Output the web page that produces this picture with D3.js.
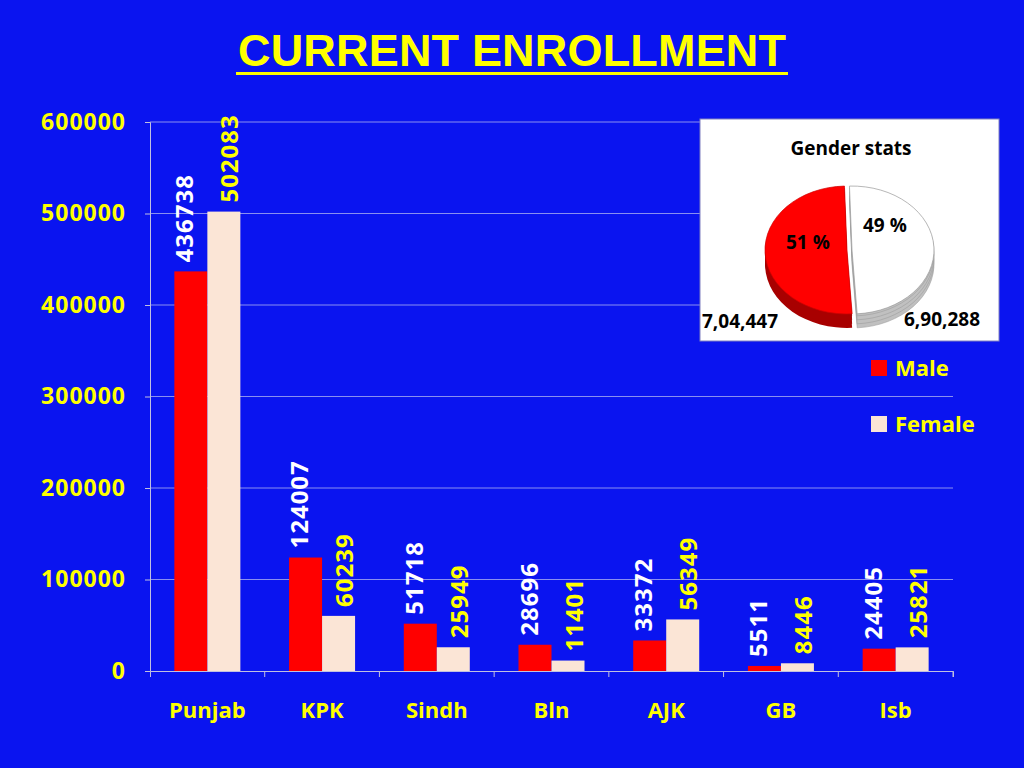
<!DOCTYPE html>
<html><head><meta charset="utf-8">
<script src="https://cdn.jsdelivr.net/npm/d3@7"></script>
<style>body{margin:0;background:#0a14f0;}svg{display:block}</style>
</head><body>
<svg id="chart" width="1024" height="768"></svg>
<script>
const categories = ["Punjab", "KPK", "Sindh", "Bln", "AJK", "GB", "Isb"];
const male = [436738, 124007, 51718, 28696, 33372, 5511, 24405];
const female = [502083, 60239, 25949, 11401, 56349, 8446, 25821];
const yTicks = [0, 100000, 200000, 300000, 400000, 500000, 600000];
const genderTotals = [{ name: "Male", value: 704447, label: "7,04,447", pct: "51 %" },
                      { name: "Female", value: 690288, label: "6,90,288", pct: "49 %" }];

const font = "'Open Sans', Lato, sans-serif";
const svg = d3.select("#chart");
svg.append("rect").attr("width", 1024).attr("height", 768).attr("fill", "#0a14f0");

svg.append("text").attr("x", 512).attr("y", 66).attr("text-anchor", "middle")
  .attr("fill", "#ffff00").attr("font-family", "'Liberation Sans', Arial, sans-serif")
  .attr("font-weight", "bold").attr("font-size", 45).attr("textLength", 548).text("CURRENT ENROLLMENT");
svg.append("rect").attr("x", 236).attr("y", 72).attr("width", 552).attr("height", 3).attr("fill", "#ffff00");

const x = d3.scaleBand().domain(categories).range([150, 953]);
const y = d3.scaleLinear().domain([0, 600000]).range([671, 122]);

const grid = svg.append("g");
grid.selectAll("line").data(yTicks.slice(1)).join("line")
  .attr("x1", 150).attr("x2", 953).attr("y1", d => y(d)).attr("y2", d => y(d))
  .attr("stroke", "#8a8ff0").attr("stroke-width", 1);

const yAxis = svg.append("g").attr("transform", "translate(150,0)")
  .call(d3.axisLeft(y).tickValues(yTicks).tickFormat(d3.format("d")).tickSize(5));
yAxis.selectAll("path,line").attr("stroke", "#c0c0e0");
yAxis.selectAll("text").attr("fill", "#ffff00").attr("font-family", font)
  .attr("font-weight", "bold").attr("font-size", 23).attr("letter-spacing", 1).attr("x", -24);

const xAxis = svg.append("g").attr("transform", "translate(0,671)")
  .call(d3.axisBottom(x).tickSize(6).tickSizeOuter(6));
xAxis.selectAll("path,line").attr("stroke", "#c0c0e0");
xAxis.selectAll(".tick line").attr("transform", `translate(${x.bandwidth() / 2},0)`);
xAxis.selectAll("text").attr("fill", "#ffff00").attr("font-family", font)
  .attr("font-weight", "bold").attr("font-size", 22).attr("dy", 38);

const bw = 33;
const rows = categories.map((c, i) => ({ c, m: male[i], f: female[i] }));
const g = svg.append("g");
g.selectAll(".m").data(rows).join("rect")
  .attr("x", d => x(d.c) + x.bandwidth() / 2 - bw).attr("width", bw)
  .attr("y", d => y(d.m)).attr("height", d => y(0) - y(d.m)).attr("fill", "#ff0000");
g.selectAll(".f").data(rows).join("rect")
  .attr("x", d => x(d.c) + x.bandwidth() / 2).attr("width", bw)
  .attr("y", d => y(d.f)).attr("height", d => y(0) - y(d.f)).attr("fill", "#fbe5d6");

function vlabel(key, dx, color) {
  g.selectAll(null).data(rows).join("text")
    .attr("transform", d => `translate(${x(d.c) + x.bandwidth() / 2 + dx},${y(d[key]) - 9}) rotate(-90)`)
    .attr("fill", color).attr("font-family", font).attr("font-weight", "bold")
    .attr("font-size", 24).attr("letter-spacing", 1).attr("text-anchor", "start").text(d => d[key]);
}
vlabel("m", -14, "#ffffff");
vlabel("f", 31, "#ffff00");

// legend
const leg = svg.append("g");
[["Male", "#ff0000", 368], ["Female", "#fbe5d6", 424]].forEach(([t, c, yy]) => {
  leg.append("rect").attr("x", 871).attr("y", yy - 8).attr("width", 16).attr("height", 16).attr("fill", c);
  leg.append("text").attr("x", 895).attr("y", yy + 8).attr("fill", "#ffff00").attr("font-family", font)
    .attr("font-weight", "bold").attr("font-size", 22).text(t);
});

// pie inset
svg.append("rect").attr("x", 700).attr("y", 119).attr("width", 299).attr("height", 222)
  .attr("fill", "#ffffff").attr("stroke", "#8080c0");
svg.append("text").attr("x", 851).attr("y", 155).attr("text-anchor", "middle")
  .attr("font-family", font).attr("font-weight", "bold").attr("font-size", 19).text("Gender stats");

const pie = d3.pie().sort(null).value(d => d.value).startAngle(2 * Math.PI * 0.49 - 2 * Math.PI).endAngle(2 * Math.PI * 0.49);
const arcs = pie([genderTotals[0], genderTotals[1]]);
const arc = d3.arc().innerRadius(0).outerRadius(82);
const colors = { Male: ["#ff0000", "#a80000"], Female: ["#ffffff", "#c0c0c0"] };
const offs = { Male: [0, 0], Female: [5, 0] };
[14, 10, 6, 2].forEach(dz => {
  arcs.forEach(a => {
    svg.append("path").attr("d", arc(a))
      .attr("transform", `translate(${847 + offs[a.data.name][0]},${250 + dz}) scale(1,0.78)`)
      .attr("fill", colors[a.data.name][1]).attr("stroke", a.data.name === "Female" ? "#999" : "none").attr("stroke-width", 0.6);
  });
});
arcs.forEach(a => {
  svg.append("path").attr("d", arc(a))
    .attr("transform", `translate(${847 + offs[a.data.name][0]},250) scale(1,0.78)`)
    .attr("fill", colors[a.data.name][0]).attr("stroke", a.data.name === "Female" ? "#999" : "#d00000").attr("stroke-width", 0.8);
});
const lbl = (t, xx, yy, s) => svg.append("text").attr("x", xx).attr("y", yy).attr("font-family", font)
  .attr("font-weight", "bold").attr("font-size", s).attr("fill", "#000").text(t);
lbl(genderTotals[0].pct, 786, 249, 19);
lbl(genderTotals[1].pct, 863, 232, 19);
lbl(genderTotals[0].label, 702, 328, 19);
lbl(genderTotals[1].label, 904, 326, 19);
</script>
</body></html>
